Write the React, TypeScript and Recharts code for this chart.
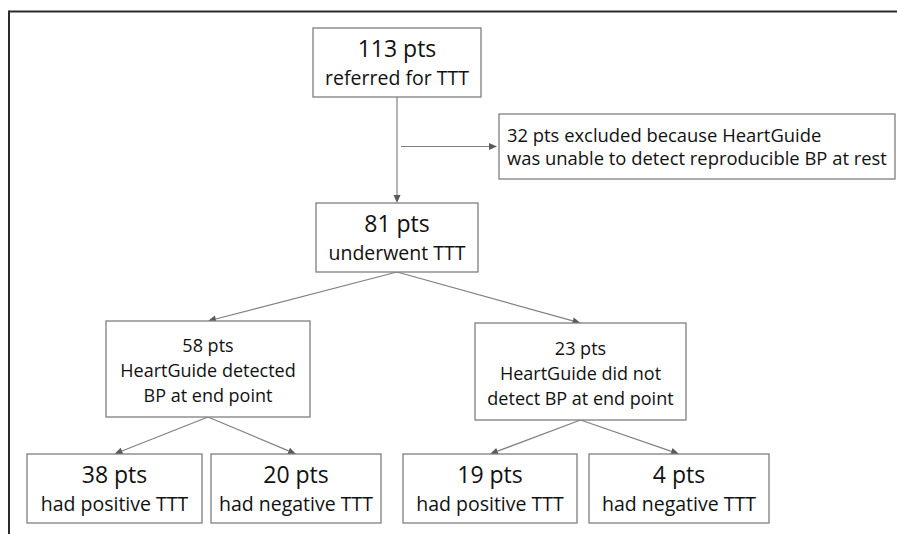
import React from "react";
import { ScatterChart, Scatter, XAxis, YAxis, ReferenceLine } from "recharts";

// flow of patients through the study
const nodeIds = ["referred", "excluded", "underwent", "detected", "notDetected", "detPos", "detNeg", "notPos", "notNeg"];
const patientCounts = [113, 32, 81, 58, 23, 38, 20, 19, 4];
const nodeCaptions = [
  ["referred for TTT"],
  ["excluded because HeartGuide", "was unable to detect reproducible BP at rest"],
  ["underwent TTT"],
  ["HeartGuide detected", "BP at end point"],
  ["HeartGuide did not", "detect BP at end point"],
  ["had positive TTT"],
  ["had negative TTT"],
  ["had positive TTT"],
  ["had negative TTT"],
];
// index of the box each one comes from (-1 = root)
const parentIndex = [-1, 0, 0, 2, 2, 3, 3, 4, 4];
const sideBranch = [false, true, false, false, false, false, false, false, false];

// layout of the boxes, in chart units (1 unit = 1px)
const W = 897;
const H = 534;
const layout = [
  { cx: 397, cy: 62.5, w: 168, h: 69 },
  { cx: 697, cy: 146.5, w: 396, h: 65 },
  { cx: 397, cy: 237.5, w: 162, h: 69 },
  { cx: 208, cy: 369, w: 204, h: 96 },
  { cx: 580.5, cy: 371.5, w: 211, h: 97 },
  { cx: 114.5, cy: 488.5, w: 175, h: 69 },
  { cx: 296, cy: 488.5, w: 170, h: 69 },
  { cx: 490, cy: 488.5, w: 174, h: 69 },
  { cx: 679, cy: 488.5, w: 180, h: 69 },
];

const FONT = "'Open Sans', sans-serif";
const BOX_STROKE = "#7f7f7f";
const EDGE_STROKE = "#808080";
const HEAD_FILL = "#5a5a5a";

const nodes = nodeIds.map((id, i) => {
  const caption = nodeCaptions[i];
  const lines = sideBranch[i]
    ? [`${patientCounts[i]} pts ${caption[0]}`, ...caption.slice(1)]
    : [`${patientCounts[i]} pts`, ...caption];
  return { id, x: layout[i].cx, y: layout[i].cy, w: layout[i].w, h: layout[i].h, lines, side: sideBranch[i] };
});

const edges = nodes
  .map((n, i) => ({ child: n, parent: parentIndex[i] >= 0 ? nodes[parentIndex[i]] : null }))
  .filter((e) => e.parent)
  .map(({ child, parent }) =>
    child.side
      ? [
          { x: parent!.x + 4, y: child.y },
          { x: child.x - child.w / 2 - 2, y: child.y },
        ]
      : [
          { x: parent!.x, y: parent!.y + parent!.h / 2 },
          { x: child.x, y: child.y - child.h / 2 },
        ]
  );

function ArrowLine(props: any) {
  const { x1, y1, x2, y2 } = props;
  const dx = x2 - x1;
  const dy = y2 - y1;
  const len = Math.hypot(dx, dy) || 1;
  const ux = dx / len;
  const uy = dy / len;
  const head = 8;
  const half = 3.5;
  const bx = x2 - ux * head;
  const by = y2 - uy * head;
  const pts = `${x2},${y2} ${bx - uy * half},${by + ux * half} ${bx + uy * half},${by - ux * half}`;
  return (
    <g>
      <line x1={x1} y1={y1} x2={bx} y2={by} stroke={EDGE_STROKE} strokeWidth={1.2} />
      <polygon points={pts} fill={HEAD_FILL} />
    </g>
  );
}

function FlowBox(props: any) {
  const { cx, cy, payload } = props;
  const { w, h, lines, side } = payload;
  const threeLine = lines.length === 3;
  const lh = side ? 23 : threeLine ? 25 : 28;
  const shift = side ? 7 : threeLine ? 8 : 8.5;
  return (
    <g>
      <rect x={cx - w / 2} y={cy - h / 2} width={w} height={h} fill="#fff" stroke={BOX_STROKE} strokeWidth={1.3} />
      {lines.map((t: string, i: number) => {
        const size = side ? 18.4 : threeLine ? 18 : i === 0 ? 23 : 19.5;
        return (
          <text
            key={i}
            x={side ? cx - w / 2 + 8 : cx}
            y={cy + (i - (lines.length - 1) / 2) * lh + shift}
            textAnchor={side ? "start" : "middle"}
            fontFamily={FONT}
            fontSize={size}
            fill="#111"
          >
            {t}
          </text>
        );
      })}
    </g>
  );
}

export default function App() {
  return (
    <div style={{ position: "absolute", left: 0, top: 0, width: W, height: H, background: "#fff" }}>
      <ScatterChart width={W} height={H} margin={{ top: 0, right: 0, bottom: 0, left: 0 }}>
        <XAxis type="number" dataKey="x" domain={[0, W]} allowDataOverflow hide />
        <YAxis type="number" dataKey="y" domain={[0, H]} allowDataOverflow reversed hide />
        <ReferenceLine segment={[{ x: 9, y: 11.5 }, { x: W, y: 11.5 }]} stroke="#2b2b2b" strokeWidth={2} />
        <ReferenceLine segment={[{ x: 9, y: 10.5 }, { x: 9, y: H }]} stroke="#2b2b2b" strokeWidth={2} />
        {edges.map((seg, i) => (
          <ReferenceLine key={i} segment={seg} shape={(p: any) => <ArrowLine {...p} />} />
        ))}
        <Scatter data={nodes} isAnimationActive={false} shape={(p: any) => <FlowBox {...p} />} />
      </ScatterChart>
    </div>
  );
}
